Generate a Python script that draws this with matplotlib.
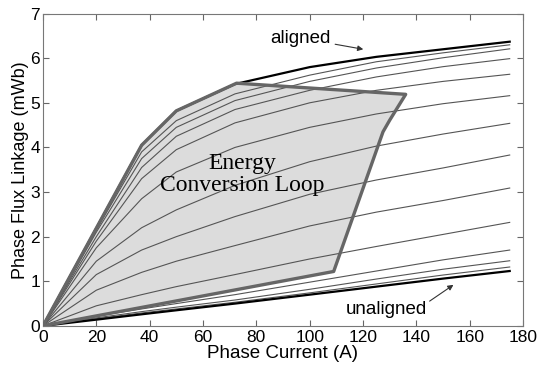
import matplotlib
matplotlib.use("Agg")
import matplotlib.pyplot as plt

current = [0, 20, 37, 50, 72, 100, 125, 150, 175]

# flux linkage curves (mWb), aligned first, unaligned last
curves = [
    [0, 2.19, 4.05, 4.82, 5.42, 5.80, 6.03, 6.20, 6.37],   # aligned
    [0, 2.15, 3.90, 4.60, 5.20, 5.62, 5.92, 6.12, 6.30],
    [0, 2.10, 3.75, 4.45, 5.05, 5.48, 5.78, 6.01, 6.21],
    [0, 2.00, 3.55, 4.25, 4.85, 5.28, 5.58, 5.81, 5.99],
    [0, 1.90, 3.30, 3.95, 4.55, 5.00, 5.28, 5.48, 5.64],
    [0, 1.75, 2.85, 3.45, 4.00, 4.45, 4.75, 4.98, 5.16],
    [0, 1.45, 2.20, 2.60, 3.15, 3.68, 4.03, 4.30, 4.54],
    [0, 1.15, 1.70, 2.00, 2.45, 2.95, 3.27, 3.54, 3.83],
    [0, 0.80, 1.20, 1.45, 1.80, 2.24, 2.55, 2.81, 3.09],
    [0, 0.45, 0.70, 0.88, 1.15, 1.50, 1.78, 2.05, 2.32],
    [0, 0.22, 0.38, 0.50, 0.70, 0.98, 1.23, 1.48, 1.70],
    [0, 0.18, 0.32, 0.42, 0.58, 0.82, 1.05, 1.27, 1.46],
    [0, 0.16, 0.29, 0.38, 0.53, 0.74, 0.94, 1.14, 1.32],
    [0, 0.14, 0.26, 0.35, 0.50, 0.70, 0.88, 1.06, 1.23],   # unaligned
]

# energy conversion loop vertices
loop_i = [0, 37, 50, 72.6, 136, 130, 127.5, 109, 0]
loop_psi = [0, 4.05, 4.82, 5.44, 5.19, 4.61, 4.35, 1.22, 0]

sans = "Liberation Sans"

fig = plt.figure(figsize=(5.37, 3.67), dpi=100)
ax = fig.add_axes([0.080, 0.112, 0.894, 0.851])

ax.fill(loop_i, loop_psi, color="#dcdcdc", zorder=1)

for k, psi in enumerate(curves):
    if k == 0 or k == len(curves) - 1:
        ax.plot(current, psi, color="black", lw=1.6, zorder=3)
    else:
        ax.plot(current, psi, color="#555555", lw=0.8, zorder=2)

ax.plot(loop_i, loop_psi, color="#666666", lw=2.4, zorder=4,
        solid_joinstyle="round")

ax.text(74.7, 3.4, "Energy\nConversion Loop", family="Liberation Serif",
        fontsize=17, ha="center", va="center", linespacing=1.05, zorder=5)

ax.annotate("aligned", xy=(120.1, 6.2), xytext=(108, 6.45),
            ha="right", va="center", fontsize=13.5, family=sans,
            arrowprops=dict(arrowstyle="-|>", color="#333333", lw=0.8,
                            mutation_scale=8, shrinkA=1, shrinkB=0))
ax.annotate("unaligned", xy=(153.9, 0.92), xytext=(128.7, 0.36),
            ha="center", va="center", fontsize=13.5, family=sans,
            arrowprops=dict(arrowstyle="-|>", color="#333333", lw=0.8,
                            mutation_scale=8, shrinkA=0, shrinkB=0,
                            relpos=(1.0, 0.9)))

ax.set_xlim(0, 180)
ax.set_ylim(0, 7)
ax.set_xticks(range(0, 181, 20))
ax.set_yticks(range(0, 8))
ax.tick_params(direction="in", top=True, right=True, length=4,
               color="#666666", labelsize=12.5)
for s in ax.spines.values():
    s.set_color("#777777")
for lab in ax.get_xticklabels() + ax.get_yticklabels():
    lab.set_family(sans)
ax.tick_params(axis="x", pad=3)
ax.tick_params(axis="y", pad=2)
ax.set_xlabel("Phase Current (A)", family=sans, fontsize=13.5, labelpad=0)
ax.set_ylabel("Phase Flux Linkage (mWb)", family=sans, fontsize=13,
              labelpad=1)

fig.savefig("out.png", dpi=100)
